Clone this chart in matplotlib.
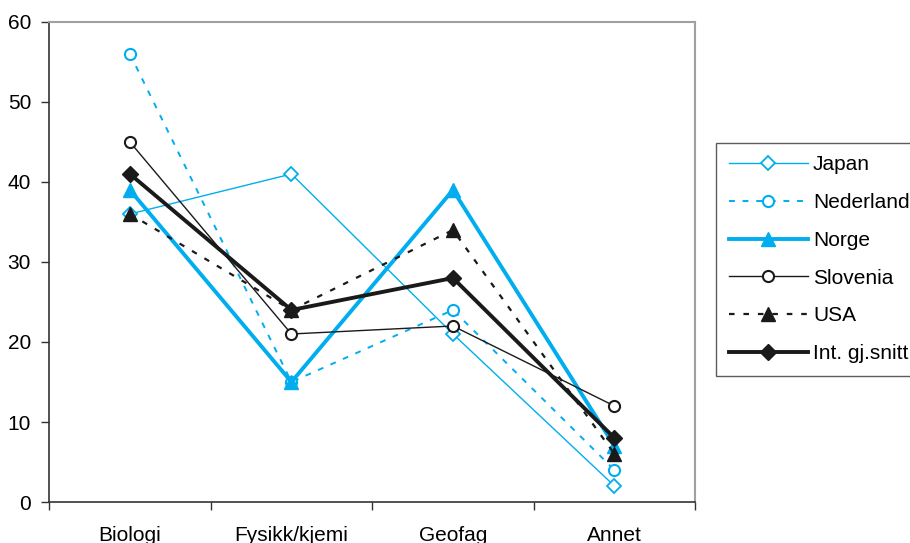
import matplotlib.pyplot as plt
import numpy as np

plt.rcParams['font.family'] = ['Liberation Sans', 'DejaVu Sans']

# Data
categories = ['Biologi', 'Fysikk/kjemi', 'Geofag', 'Annet']
japan = [36, 41, 21, 2]
nederland = [56, 15, 24, 4]
norge = [39, 15, 39, 7]
slovenia = [45, 21, 22, 12]
usa = [36, 24, 34, 6]
int_snitt = [41, 24, 28, 8]

cyan = '#00aeef'
black = '#1a1a1a'

fig = plt.figure(figsize=(9.1, 5.43), dpi=100)
ax = fig.add_axes([0.054, 0.0755, 0.71, 0.884])

x = np.arange(len(categories))

ax.plot(x, japan, color=cyan, lw=1.0, marker='D', ms=7, mfc='white',
        mec=cyan, mew=1.3, label='Japan')
ax.plot(x, nederland, color=cyan, lw=1.4, ls=(0, (3, 4)), marker='o', ms=8,
        mfc='white', mec=cyan, mew=1.5, label='Nederland')
ax.plot(x, norge, color=cyan, lw=2.8, marker='^', ms=10, mfc=cyan,
        mec=cyan, label='Norge')
ax.plot(x, slovenia, color=black, lw=1.0, marker='o', ms=8, mfc='white',
        mec=black, mew=1.5, label='Slovenia')
ax.plot(x, usa, color=black, lw=1.6, ls=(0, (2.5, 4)), marker='^', ms=10,
        mfc=black, mec=black, label='USA')
ax.plot(x, int_snitt, color=black, lw=2.8, marker='D', ms=8, mfc=black,
        mec=black, label='Int. gj.snitt')

ax.set_xlim(-0.5, 3.5)
ax.set_ylim(0, 60)
ax.set_yticks(range(0, 61, 10))
ax.set_xticks(x)
ax.set_xticklabels(categories)
ax.set_xticks(np.arange(-0.5, 4, 1), minor=True)
ax.tick_params(axis='x', which='major', length=0, pad=17, labelsize=15)
ax.tick_params(axis='x', which='minor', length=6, width=1, color='#333333',
               direction='out')
ax.tick_params(axis='y', length=6, width=1, color='#333333', direction='out',
               labelsize=15, pad=7)

for s in ['top', 'right']:
    ax.spines[s].set_color('#a0a0a0')
    ax.spines[s].set_linewidth(1.5)
for s in ['left', 'bottom']:
    ax.spines[s].set_color('#333333')
    ax.spines[s].set_linewidth(1.2)

leg = fig.legend(loc='upper left', bbox_to_anchor=(0.787, 0.737),
                 borderaxespad=0, fontsize=15, frameon=True, fancybox=False,
                 edgecolor='#333333', handlelength=3.8, labelspacing=0.9,
                 borderpad=0.6, handletextpad=0.25)
leg.get_frame().set_linewidth(1.0)

plt.savefig('out.png', dpi=100)
